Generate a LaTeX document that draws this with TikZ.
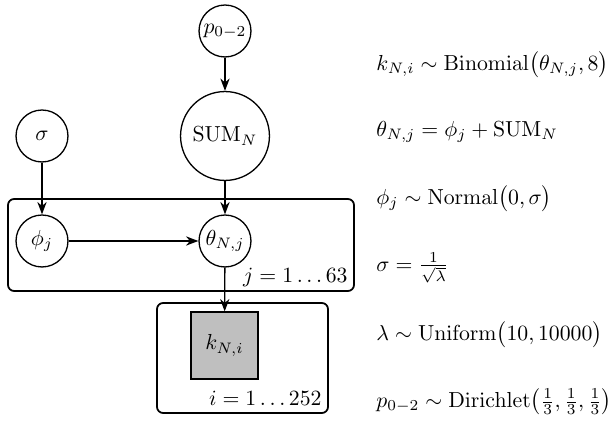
\documentclass[tikz,border=0pt]{standalone}
\usepackage{amsmath,amssymb}
\usepackage{tikz}
\usetikzlibrary{positioning, calc, arrows.meta}

\tikzset{
  latent/.style={circle, draw, semithick, minimum size=23.9pt, inner sep=0.5pt},
  obs/.style={rectangle, draw, semithick, fill=gray!50, minimum size=30.8pt},
  plate/.style={draw, thick, rounded corners=2.8pt},
  platelabel/.style={anchor=base east, inner sep=0pt},
  eqn/.style={anchor=west, inner sep=0pt},
}

\begin{document}
\begin{tikzpicture}[x=0.46pt, y=-0.46pt, >=Stealth]
    \useasboundingbox (0,0) rectangle (609,431);

    % Random variables
    \node[latent] (p) at (225,31) {$p_{0-2}$};
    \node[latent, minimum size=40.9pt] (sum) at (225,136) {$\mathrm{SUM}_N$};
    \node[latent] (sigma) at (42,136) {$\sigma$};
    \node[latent] (phi) at (42,241) {$\phi_j$};
    \node[latent] (theta) at (225,241) {$\theta_{N,j}$};
    \node[obs] (k) at (224.5,345.5) {$k_{N,i}$};

    % Plates
    \coordinate (jnw) at (8,199);
    \coordinate (jse) at (354,291);
    \coordinate (inw) at (157,303);
    \coordinate (ise) at (328,413);
    \draw[plate] (jnw) rectangle (jse);
    \draw[plate] (inw) rectangle (ise);
    \node[platelabel] (jlab) at (348,283) {$j = 1\ldots63$};
    \node[platelabel] (ilab) at (322,406) {$i = 1\ldots252$};

    % Dependencies
    \draw[->, semithick] (p) -- (sum);
    \draw[->, semithick] (sigma) -- (phi);
    \draw[->, semithick] (sum) -- (theta);
    \draw[->, semithick] (phi) -- (theta);
    \draw[->, semithick] (theta) -- (k);

    % Model equations
    \node[eqn] (eqk) at (376,65) {$k_{N,i} \sim \mathrm{Binomial}\big(\theta_{N,j}, 8\big)$};
    \node[eqn] (eqtheta) at (376,132) {$\theta_{N,j} = \phi_j + \mathrm{SUM}_N$};
    \node[eqn] (eqphi) at (376,199) {$\phi_j \sim \mathrm{Normal}\big(0, \sigma\big)$};
    \node[eqn] (eqsigma) at (376,268) {$\sigma = \frac{1}{\sqrt{\lambda}}$};
    \node[eqn] (eqlambda) at (376,335) {$\lambda \sim \mathrm{Uniform}\big(10, 10000\big)$};
    \node[eqn] (eqp) at (376,402) {$p_{0-2} \sim \mathrm{Dirichlet}\big(\frac{1}{3}, \frac{1}{3}, \frac{1}{3}\big)$};
\end{tikzpicture}
\end{document}
